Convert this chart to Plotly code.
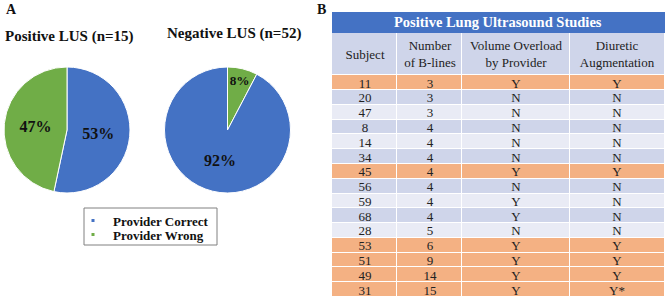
import plotly.graph_objects as go

W, H = 666, 300

# ---------- data ----------
pie_labels = ["Provider Correct", "Provider Wrong"]
pos_counts = [8, 7]        # Positive LUS (n=15)
neg_counts = [48, 4]       # Negative LUS (n=52)
pie_titles = ["Positive LUS (n=15)", "Negative LUS (n=52)"]

table_title = "Positive Lung Ultrasound Studies"
col_headers = ["Subject", "Number<br>of B-lines", "Volume Overload<br>by Provider", "Diuretic<br>Augmentation"]
subjects = [11, 20, 47, 8, 14, 34, 45, 56, 59, 68, 28, 53, 51, 49, 31]
b_lines = [3, 3, 3, 4, 4, 4, 4, 4, 4, 4, 5, 6, 9, 14, 15]
overload = ["Y", "N", "N", "N", "N", "N", "Y", "N", "Y", "Y", "N", "Y", "Y", "Y", "Y"]
diuretic = ["Y", "N", "N", "N", "N", "N", "Y", "N", "N", "N", "N", "Y", "Y", "Y", "Y*"]

# ---------- styles ----------
BLUE = "#4472C4"
GREEN = "#70AD47"
ORANGE = "#F4B183"
DARK_ROW = "#CFD5EA"
LIGHT_ROW = "#E9EBF5"
SERIF = "Liberation Serif, Times New Roman, serif"
colors = {"Provider Correct": BLUE, "Provider Wrong": GREEN}
col_widths = [65, 65, 107, 95]
header_h = 42
row_h = 14.7
legend_tops = [205.5, 219.5]


def px_x(v):
    return v / W


def px_y(v):
    return 1 - v / H


fig = go.Figure()

pie_text = dict(texttemplate="<b>%{percent:.0%}</b>", textposition="inside",
                insidetextorientation="horizontal",
                textfont=dict(family=SERIF, size=16, color="#111"))

# Pie 1: blue first clockwise from top
fig.add_trace(go.Pie(
    labels=pie_labels, values=pos_counts, sort=False, direction="clockwise", rotation=0,
    marker=dict(colors=[colors[l] for l in pie_labels], line=dict(color="white", width=1)),
    domain=dict(x=[px_x(4), px_x(130)], y=[px_y(193), px_y(67)]),
    showlegend=False, hoverinfo="label+percent", **pie_text,
))

# Pie 2: green first clockwise from top
neg_order = [1, 0]
fig.add_trace(go.Pie(
    labels=[pie_labels[i] for i in neg_order], values=[neg_counts[i] for i in neg_order],
    sort=False, direction="clockwise", rotation=0,
    marker=dict(colors=[colors[pie_labels[i]] for i in neg_order], line=dict(color="white", width=1)),
    domain=dict(x=[px_x(164), px_x(291)], y=[px_y(193), px_y(67)]),
    showlegend=False, hoverinfo="label+percent", **pie_text,
))

# Legend entries (small square markers), one legend per entry for tight spacing
legend_names = ["legend", "legend2"]
for lab, lg in zip(pie_labels, legend_names):
    fig.add_trace(go.Scatter(
        x=[None], y=[None], mode="markers", name="<b>" + lab + "</b>",
        marker=dict(symbol="square", size=3, color=colors[lab]),
        showlegend=True, legend=lg,
    ))

# Table drawn as a heatmap with variable column / row edges
x_edges = [0]
for w in col_widths:
    x_edges.append(x_edges[-1] + w)
y_edges = [0, header_h]
for _ in subjects:
    y_edges.append(y_edges[-1] + row_h)

z = [[1] * 4]
text = [col_headers]
for i in range(len(subjects)):
    if diuretic[i].startswith("Y"):
        v = 2
    elif i % 2 == 1:
        v = 1
    else:
        v = 0
    z.append([v] * 4)
    text.append([str(subjects[i]), str(b_lines[i]), overload[i], diuretic[i]])

fig.add_trace(go.Heatmap(
    x=x_edges, y=y_edges, z=z, text=text, texttemplate="%{text}",
    textfont=dict(family=SERIF, size=13, color="#222"),
    colorscale=[[0, LIGHT_ROW], [0.5, DARK_ROW], [1, ORANGE]], zmin=0, zmax=2,
    showscale=False, xgap=1, ygap=1, hoverinfo="skip",
    xaxis="x2", yaxis="y2",
))

shapes = [
    dict(type="rect", xref="paper", yref="paper",
         x0=px_x(332), x1=px_x(665), y0=px_y(33), y1=px_y(12),
         fillcolor=BLUE, line=dict(width=0), layer="above"),
    # legend frame
    dict(type="rect", xref="paper", yref="paper",
         x0=px_x(84), x1=px_x(217), y0=px_y(245), y1=px_y(208),
         fillcolor="rgba(0,0,0,0)", line=dict(color="#808080", width=1)),
]

annotations = [
    dict(text="<b>A</b>", x=px_x(4), y=px_y(10), xanchor="left", yanchor="middle",
         font=dict(family=SERIF, size=14, color="#111")),
    dict(text="<b>B</b>", x=px_x(315), y=px_y(9), xanchor="left", yanchor="middle",
         font=dict(family=SERIF, size=14, color="#111")),
    dict(text="<b>" + pie_titles[0] + "</b>", x=px_x(69.5), y=px_y(36), xanchor="center", yanchor="middle",
         font=dict(family=SERIF, size=15, color="#111")),
    dict(text="<b>" + pie_titles[1] + "</b>", x=px_x(234), y=px_y(34), xanchor="center", yanchor="middle",
         font=dict(family=SERIF, size=15, color="#111")),
    dict(text="<b>" + table_title + "</b>", x=px_x(498), y=px_y(22.5), xanchor="center", yanchor="middle",
         font=dict(family=SERIF, size=14.5, color="white")),
]
for a in annotations:
    a.update(xref="paper", yref="paper", showarrow=False)

legend_style = dict(xanchor="left", yanchor="top", borderwidth=0, bgcolor="rgba(0,0,0,0)",
                    font=dict(family=SERIF, size=13, color="#111"),
                    itemsizing="trace", tracegroupgap=0)

fig.update_layout(
    width=W, height=H, margin=dict(l=0, r=0, t=0, b=0),
    paper_bgcolor="white", plot_bgcolor="white",
    xaxis=dict(visible=False, domain=[0, 0.45]), yaxis=dict(visible=False),
    xaxis2=dict(visible=False, domain=[px_x(332), px_x(665)], range=[0, x_edges[-1]],
                anchor="y2", fixedrange=True),
    yaxis2=dict(visible=False, domain=[px_y(297), px_y(33)], range=[y_edges[-1], 0],
                anchor="x2", fixedrange=True),
    shapes=shapes, annotations=annotations,
    legend=dict(x=px_x(73), y=px_y(legend_tops[0]), **legend_style),
    legend2=dict(x=px_x(73), y=px_y(legend_tops[1]), **legend_style),
)

fig.write_html("out.html")
